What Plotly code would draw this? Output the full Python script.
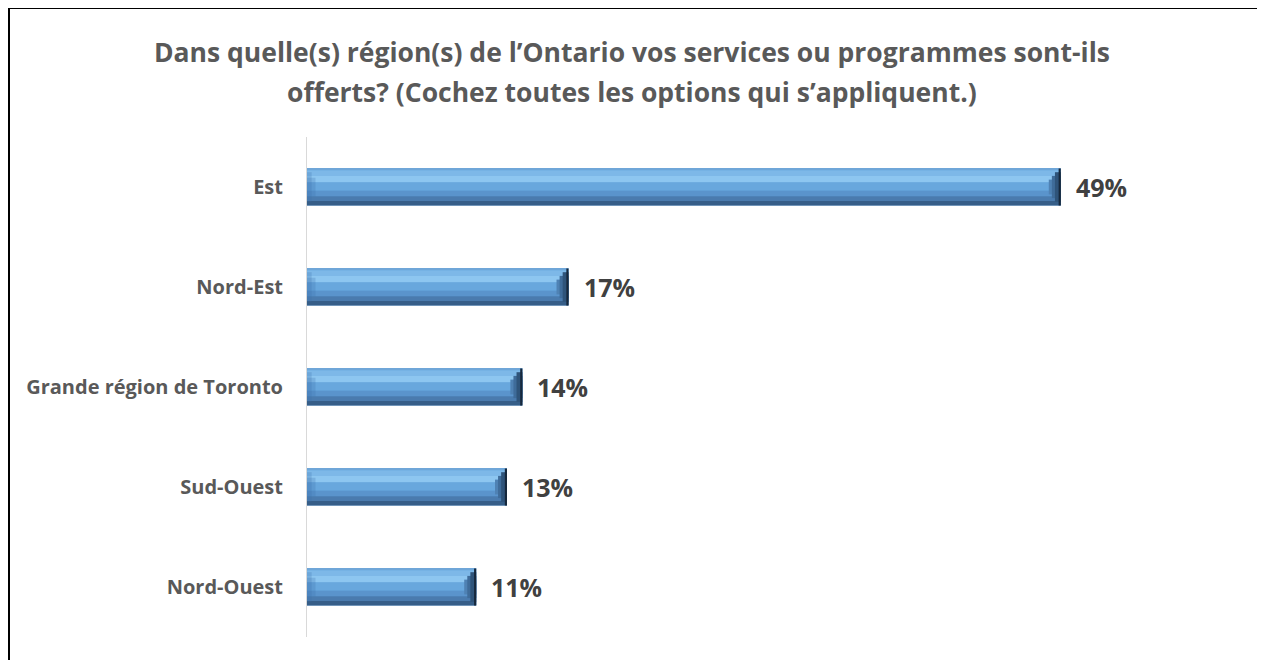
import plotly.graph_objects as go

categories = ["Est", "Nord-Est", "Grande région de Toronto", "Sud-Ouest", "Nord-Ouest"]
values = [49, 17, 14, 13, 11]
labels = ["49%", "17%", "14%", "13%", "11%"]
title_lines = ["Dans quelle(s) région(s) de l’Ontario vos services ou programmes sont-ils",
               "offerts? (Cochez toutes les options qui s’appliquent.)"]

# the page body adds an 8px offset, so the figure is sized to fit the window
OFF = 8
W, H = 1265 - OFF, 660 - OFF
ML, MR, MT, MB = 307 - OFF, 35, 137 - OFF, 23
PW, PH = W - ML - MR, H - MT - MB
XMAX = 60.0
BAR_W = 0.37
TOP = -BAR_W / 2

FONT = "'Open Sans', Lato, Arial, sans-serif"
TXT = "#595959"

fig = go.Figure()

def band(y0, y1, color, base=None, x=None):
    fig.add_trace(go.Bar(
        y=categories, x=x if x is not None else values, base=base,
        orientation="h",
        width=(y1 - y0) * BAR_W, offset=TOP + y0 * BAR_W,
        marker=dict(color=color, line=dict(width=0)),
        hoverinfo="skip", showlegend=False,
    ))

n = len(values)
# main body stripes (top -> bottom)
band(0.00, 1.00, "#5B9BD5")
band(0.00, 0.05, "#6FA6D8")
band(0.05, 0.20, "#7DB8E8")
band(0.20, 0.38, "#8DC6F0")
band(0.38, 0.60, "#68A7DD")
band(0.60, 0.75, "#5A94CC")
band(0.75, 0.88, "#4A7BAE")
band(0.88, 1.00, "#365E88")

# left bevel: triangle pointing right, slightly darker
band(0.10, 0.90, "rgba(60,110,170,0.25)", base=[0] * n, x=[0.3] * n)
band(0.25, 0.75, "rgba(60,110,170,0.25)", base=[0] * n, x=[0.55] * n)

# right bevel: triangle pointing left, dark gradient towards the end
band(0.30, 0.70, "#4F82B4", base=[v - 0.78 for v in values], x=[0.78] * n)
band(0.20, 0.80, "#3F6C9A", base=[v - 0.58 for v in values], x=[0.58] * n)
band(0.10, 0.90, "#2F547A", base=[v - 0.38 for v in values], x=[0.38] * n)
band(0.00, 1.00, "#16283C", base=[v - 0.14 for v in values], x=[0.14] * n)

for cat, v, lab in zip(categories, values, labels):
    fig.add_annotation(x=v, y=cat, text="<b>" + lab + "</b>", showarrow=False,
                       xanchor="left", xshift=13, yshift=0,
                       font=dict(family=FONT, size=25, color="#404040"))

# title lines
for i, line in enumerate(title_lines):
    fig.add_annotation(xref="paper", yref="paper",
                       x=(632 - OFF - ML) / PW,
                       y=(H - MB - (52 + 40 * i - OFF)) / PH,
                       text="<b>" + line + "</b>", showarrow=False,
                       xanchor="center", yanchor="middle",
                       font=dict(family=FONT, size=26.5, color=TXT))

# outer border of the chart area
fig.add_shape(type="rect", xref="paper", yref="paper",
              x0=(1 - ML) / PW, x1=1.2, y0=-0.3, y1=(H - MB - 0) / PH,
              line=dict(color="black", width=2), fillcolor="rgba(0,0,0,0)",
              layer="below")

fig.update_layout(
    width=W, height=H,
    margin=dict(l=ML, r=MR, t=MT, b=MB, autoexpand=False),
    barmode="overlay",
    plot_bgcolor="white", paper_bgcolor="white",
    xaxis=dict(range=[0, XMAX], visible=False, fixedrange=True),
    yaxis=dict(categoryorder="array", categoryarray=categories,
               autorange="reversed", showline=True, linecolor="#D9D9D9",
               linewidth=1, showgrid=False, ticks="", ticklabelstandoff=19,
               tickfont=dict(family=FONT, size=20, color=TXT, weight="bold"),
               fixedrange=True),
    font=dict(family=FONT),
)

fig.write_html("out.html")
